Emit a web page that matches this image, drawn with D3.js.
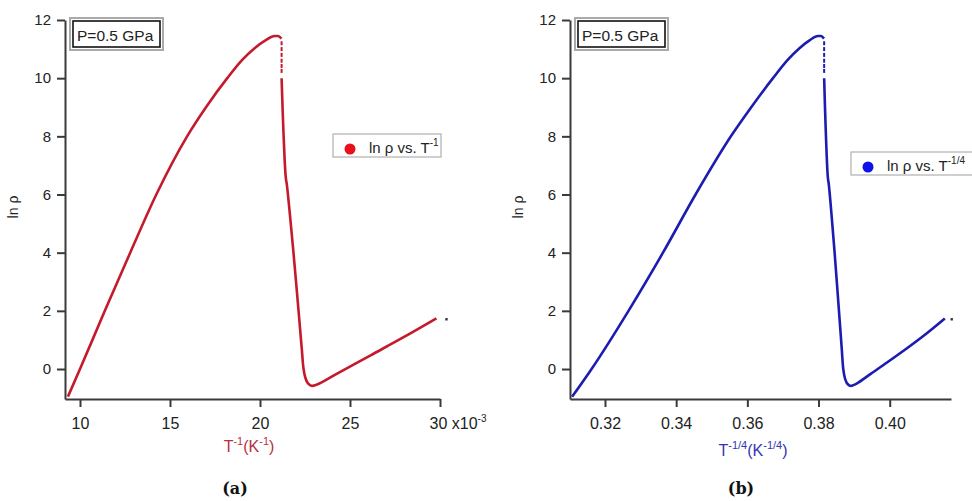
<!DOCTYPE html>
<html><head><meta charset="utf-8">
<script src="https://cdn.jsdelivr.net/npm/d3@7"></script>
<style>
body{margin:0;background:#fff;}
text{font-family:Arial,"Liberation Sans",sans-serif;}
</style></head>
<body><svg id="c" width="972" height="501"></svg>
<script>
// ---- data ----
// rising branch (a): T^-1 in 10^-3 K^-1
const invT1   = [9.33, 10.0, 11.38, 12.79, 14.24, 15.95, 17.0, 18.18, 19.0, 19.7, 20.3, 20.82, 21.0, 21.19];
const lnRho1  = [-0.95, 0.0, 2.0, 4.0, 6.0, 8.0, 9.0, 10.0, 10.62, 11.03, 11.3, 11.45, 11.45, 11.36];
// same points as T^-1/4 (b)
const invTq1  = [0.31079, 0.31623, 0.32661, 0.33629, 0.34545, 0.35538, 0.36109, 0.36720, 0.37127, 0.37464, 0.37747, 0.37986, 0.38068, 0.38154];
// sparse points of the drop
const invTDrop  = [21.2, 21.2, 21.2, 21.2, 21.2, 21.2];
const invTqDrop = [0.38158, 0.38158, 0.38158, 0.38158, 0.38158, 0.38158];
const lnRhoDrop = [11.2, 11.0, 10.8, 10.6, 10.42, 10.25];
// falling + low branch
const invT2   = [21.20, 21.30, 21.43, 21.50, 21.86, 22.10, 22.32, 22.42, 22.52, 22.65, 22.80, 22.92, 23.3, 24.31, 26.17, 28.03, 29.8];
const invTq2  = [0.38158, 0.38203, 0.38261, 0.38293, 0.38452, 0.38556, 0.38652, 0.38695, 0.38738, 0.38794, 0.38859, 0.38910, 0.39070, 0.39487, 0.40221, 0.40917, 0.41549];
const lnRho2  = [10.0, 8.2, 6.6, 6.3, 4.0, 2.3, 0.7, 0.0, -0.3, -0.48, -0.56, -0.58, -0.5, -0.15, 0.48, 1.11, 1.74];
// lone end point
const invTEnd = [30.36];
const invTqEnd = [0.41742];
const lnRhoEnd = [1.71];

const yTicks = [0, 2, 4, 6, 8, 10, 12];
const xTicksA = [10, 15, 20, 25, 30];
const xTicksB = [0.32, 0.34, 0.36, 0.38, 0.40];
const legendA = "ln ρ vs. T";
const legendB = "ln ρ vs. T";
const pLabel = "P=0.5 GPa";

const svg = d3.select("#c");
const axisColor = "#3a3a3a";

function panel(opt){
  const g = svg.append("g");
  const x = d3.scaleLinear().domain(opt.xdom).range([opt.left, opt.right]);
  const y = d3.scaleLinear().domain([-1.031, 12]).range([399, 20]);

  // axes
  const ya = g.append("g").attr("transform",`translate(${opt.left},0)`)
    .call(d3.axisLeft(y).tickValues(yTicks).tickSize(8).tickSizeOuter(0).tickPadding(6));
  const xa = g.append("g").attr("transform",`translate(0,399)`)
    .call(d3.axisBottom(x).tickValues(opt.xticks).tickFormat(opt.fmt).tickSize(8).tickSizeOuter(0).tickPadding(11));
  [ya, xa].forEach(a=>{
    a.select(".domain").attr("stroke",axisColor).attr("stroke-width",2);
    a.selectAll(".tick line").attr("stroke",axisColor).attr("stroke-width",2);
    a.selectAll(".tick text").attr("fill","#222").style("font-family","Arial, 'Liberation Sans', sans-serif");
  });
  ya.selectAll(".tick text").style("font-size","15px");
  xa.selectAll(".tick text").style("font-size","16px");

  // y label
  g.append("text").attr("transform",`translate(${opt.left-47},207) rotate(-90)`)
    .attr("text-anchor","middle").attr("fill","#222").style("font-size","14px").text("ln ρ");

  // data
  g.append("path").datum(opt.x1.map((v,i)=>[v, lnRho1[i]]))
    .attr("d", d3.line().x(d=>x(d[0])).y(d=>y(d[1])).curve(d3.curveMonotoneX)).attr("fill","none")
    .attr("stroke",opt.color).attr("stroke-width",2.6);
  g.append("path").datum(opt.x2.map((v,i)=>[v, lnRho2[i]]))
    .attr("d", d3.line().x(d=>x(d[0])).y(d=>y(d[1])).curve(d3.curveCatmullRom.alpha(0.5))).attr("fill","none")
    .attr("stroke",opt.color).attr("stroke-width",2.6);
  g.selectAll(".drop").data(opt.xd.map((v,i)=>[v, lnRhoDrop[i]])).join("rect")
    .attr("x",d=>x(d[0])-1).attr("y",d=>y(d[1])-2).attr("width",2).attr("height",4)
    .attr("fill",opt.color);
  g.selectAll(".endpt").data(opt.xe.map((v,i)=>[v, lnRhoEnd[i]])).join("rect")
    .attr("x",d=>x(d[0])-1.2).attr("y",d=>y(d[1])-1.2).attr("width",2.4).attr("height",2.4)
    .attr("fill","#333");

  // P box
  const bx = opt.left+5;
  g.append("rect").attr("x",bx).attr("y",18).attr("width",93).attr("height",32)
    .attr("fill","#fff").attr("stroke","#aaa").attr("stroke-width",2);
  g.append("rect").attr("x",bx+3).attr("y",21).attr("width",87).attr("height",26)
    .attr("fill","none").attr("stroke","#111").attr("stroke-width",1.6);
  g.append("text").attr("x",bx+7).attr("y",40.5).attr("fill","#222").style("font-size","15.5px").text(pLabel);

  // legend
  g.append("rect").attr("x",opt.lx).attr("y",opt.ly).attr("width",opt.lw).attr("height",23)
    .attr("fill","#fff").attr("stroke","#b0b0b0").attr("stroke-width",1.2);
  g.append("circle").attr("cx",opt.lx+17).attr("cy",opt.ly+15).attr("r",5.5).attr("fill",opt.dot);
  const lt = g.append("text").attr("x",opt.lx+36).attr("y",opt.ly+19).attr("fill","#222").style("font-size","15px");
  lt.append("tspan").text(opt.legend);
  lt.append("tspan").attr("dy",-7).style("font-size","10px").text(opt.legSup);

  // x title
  const xt = g.append("text").attr("x",opt.tx).attr("y",opt.ty).attr("text-anchor","middle")
    .attr("fill",opt.tcolor).style("font-size","16px");
  xt.append("tspan").text("T");
  xt.append("tspan").attr("dy",-7).style("font-size","11px").text(opt.sup);
  xt.append("tspan").attr("dy",7).text("(K");
  xt.append("tspan").attr("dy",-7).style("font-size","11px").text(opt.sup);
  xt.append("tspan").attr("dy",7).text(")");

  // panel caption
  g.append("text").attr("x",opt.cx).attr("y",494).attr("text-anchor","middle")
    .style("font-family","'DejaVu Serif','Liberation Serif',serif").style("font-weight","bold")
    .style("font-size","16px").attr("fill","#111").text(opt.caption);
  return {g,x,y};
}

const A = panel({xdom:[9.167,30], left:65, right:440, xticks:xTicksA,
  fmt:d=> d===30 ? "30 x10" : d3.format("d")(d),
  x1:invT1, x2:invT2, xd:invTDrop, xe:invTEnd, color:"#c41a2c", dot:"#e8101a",
  lx:333, ly:134, lw:108, legend:legendA, legSup:"-1",
  tx:249, ty:452, tcolor:"#b8303e", sup:"-1", cx:235, caption:"(a)"});
// superscript -3 on the "30 x10" label
A.g.selectAll(".tick text").filter(d=>d===30).append("tspan").attr("dy",-7).style("font-size","10px").text("-3");
A.g.selectAll(".tick text").filter(d=>d===30).attr("text-anchor","start").attr("dx",-11);

panel({xdom:[0.31017,0.41722], left:570, right:951, xticks:xTicksB,
  fmt:d3.format(".2f"),
  x1:invTq1, x2:invTq2, xd:invTqDrop, xe:invTqEnd, color:"#1c1cb0", dot:"#1010e8",
  lx:851, ly:152, lw:140, legend:legendB, legSup:"-1/4",
  tx:753, ty:456, tcolor:"#3434b4", sup:"-1/4", cx:741, caption:"(b)"});
</script></body></html>
